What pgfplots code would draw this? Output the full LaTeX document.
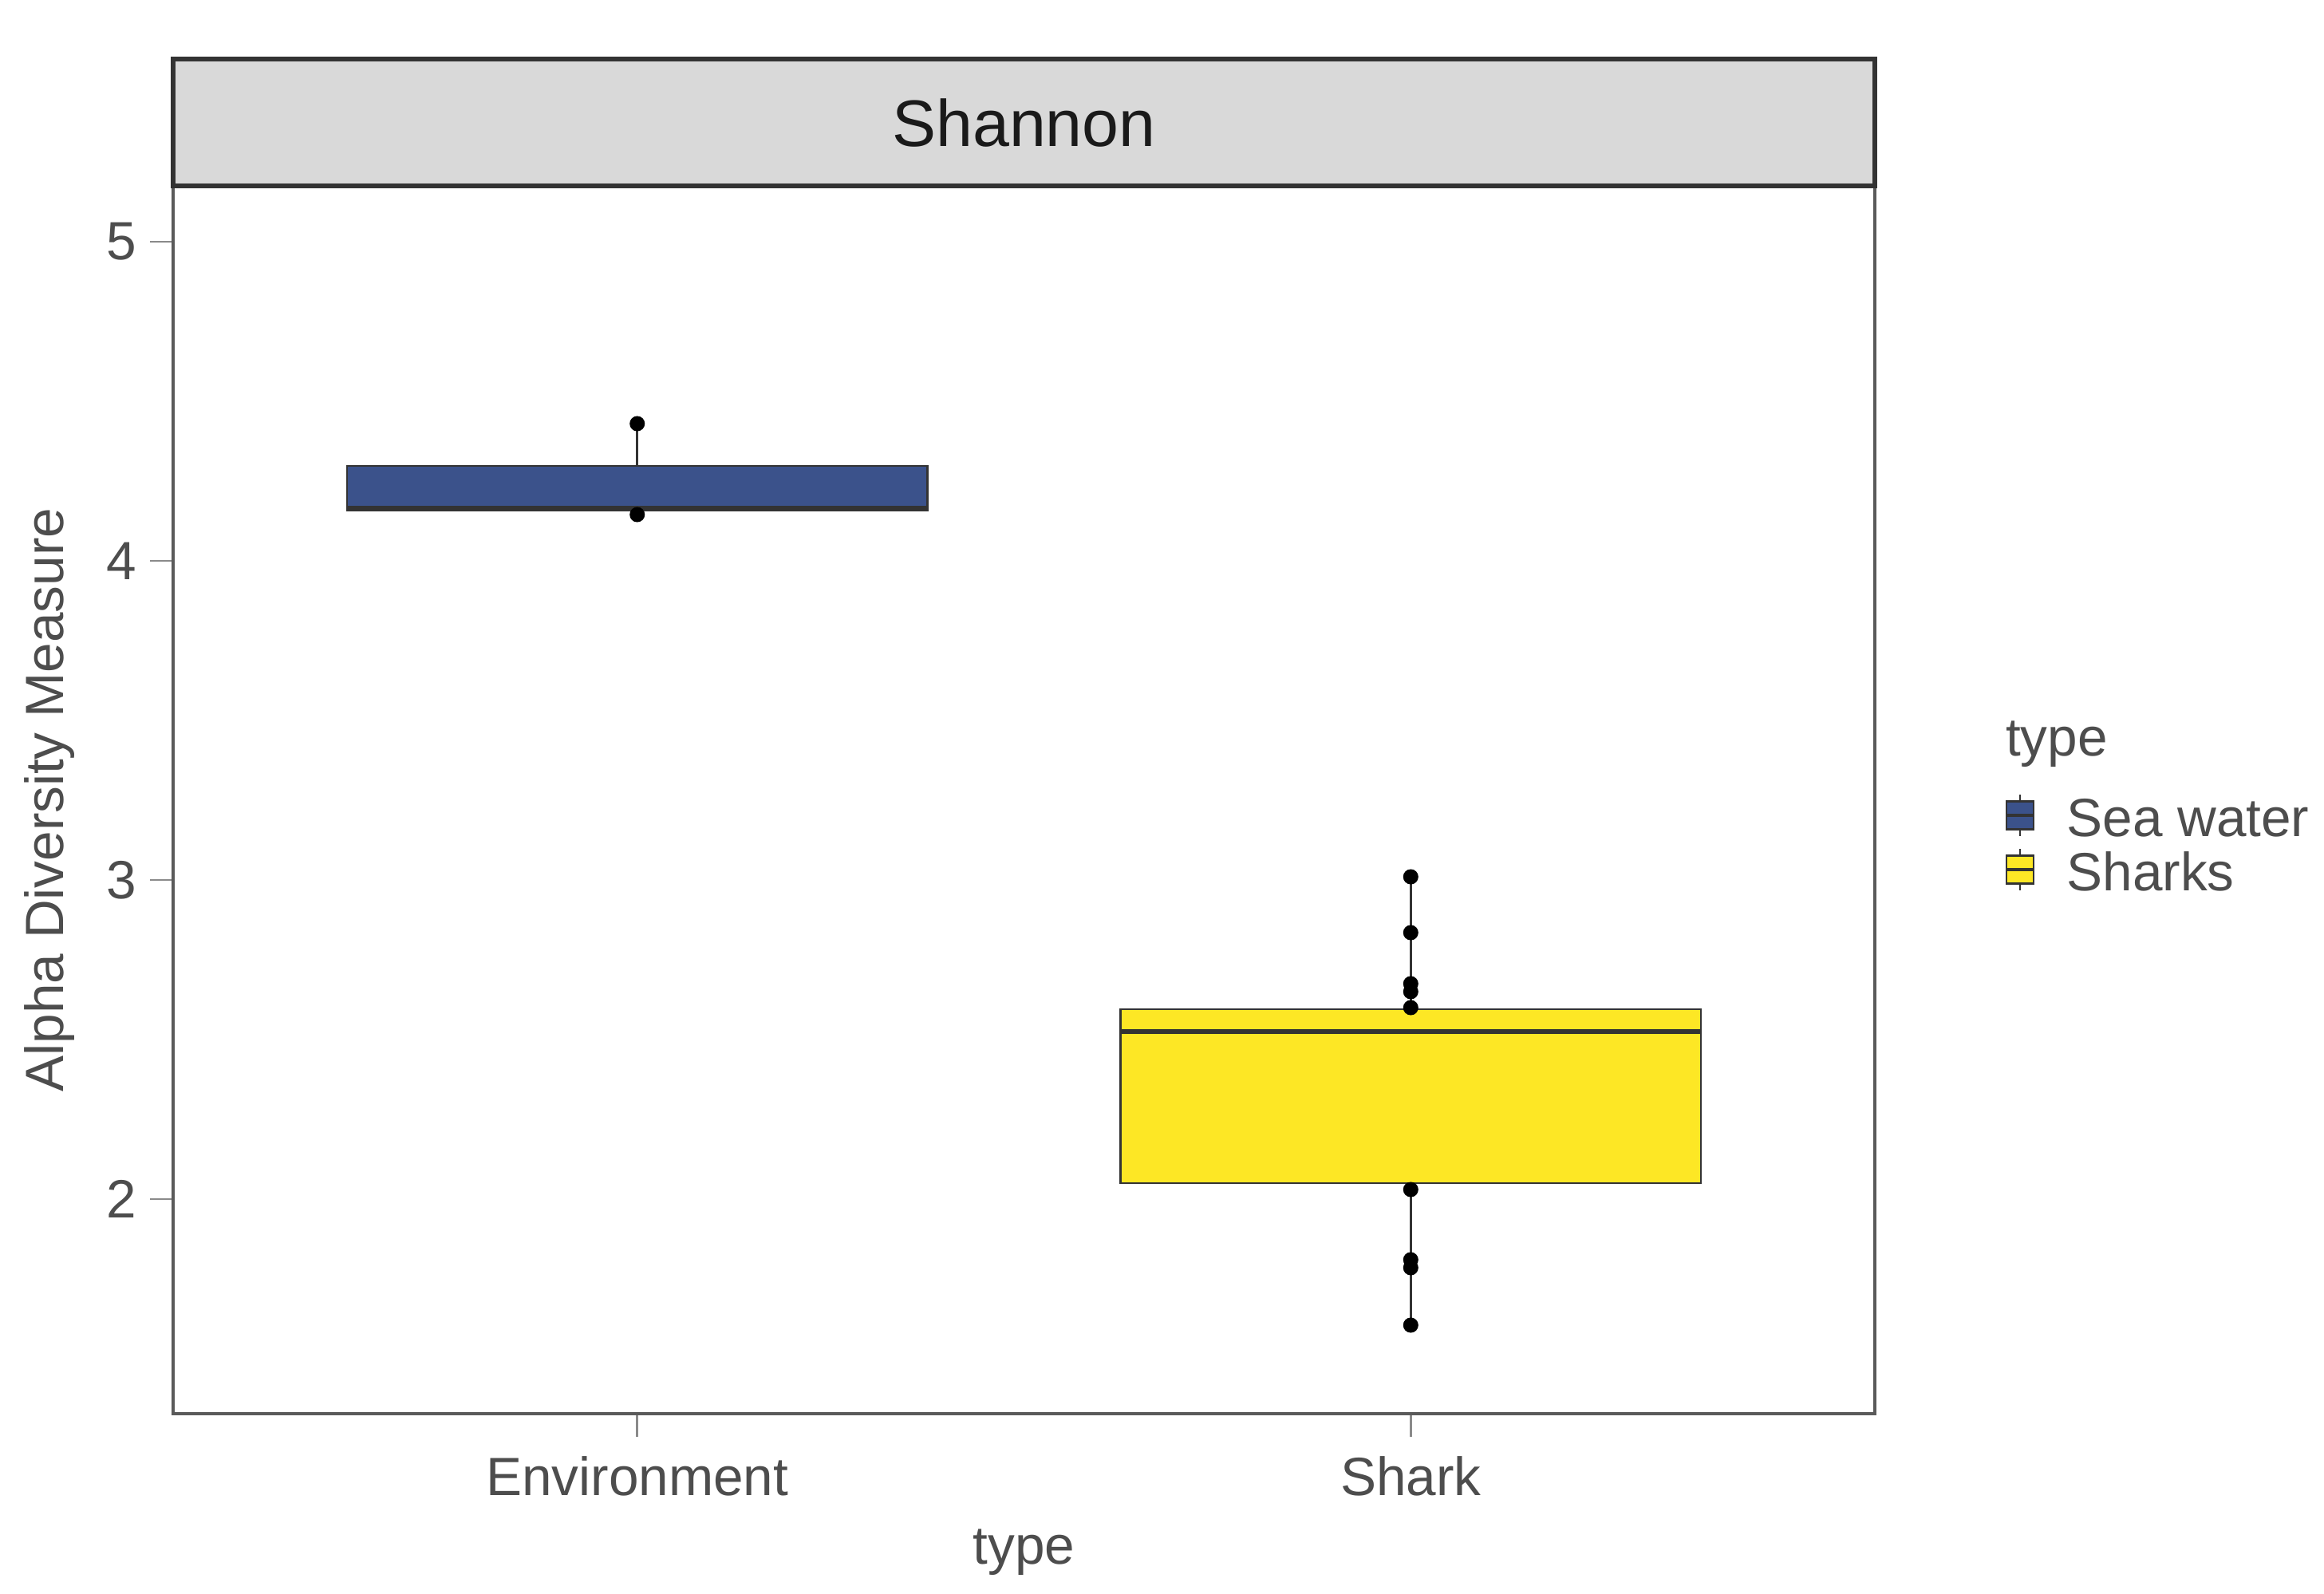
\documentclass[border=0pt]{standalone}
\usepackage{fontspec}
\setmainfont{Liberation Sans}
\usepackage{pgfplots}
\pgfplotsset{compat=1.18}
\usepgfplotslibrary{statistics}
\definecolor{seablue}{HTML}{3B528B}
\definecolor{sharky}{HTML}{FDE725}
\definecolor{txtgray}{HTML}{4D4D4D}
\definecolor{boxline}{HTML}{333333}
\definecolor{stripfill}{HTML}{D9D9D9}
\definecolor{framegray}{HTML}{5A5A5A}
\definecolor{tickgray}{HTML}{8A8A8A}
\definecolor{striptext}{HTML}{1A1A1A}
\begin{document}
\begin{tikzpicture}
\begin{axis}[
  at={(43.4pt,45pt)}, anchor=south west,
  scale only axis, width=426.6pt, height=307.8pt,
  xmin=0.4, xmax=2.6, ymin=1.3275, ymax=5.175,
  xtick={1,2}, xticklabels={Environment,Shark},
  ytick={2,3,4,5},
  tick pos=left, tick align=outside,
  major tick length=5.7pt,
  every tick/.style={draw=tickgray, line width=0.5pt},
  axis line style={draw=framegray, line width=0.9pt},
  tick label style={font=\fontsize{13.5}{16}\selectfont, text=txtgray},
  xticklabel style={yshift=-1.4pt},
  /pgf/number format/assume math mode=true,
  xlabel={type}, ylabel={Alpha Diversity Measure},
  label style={font=\fontsize{13.5}{16}\selectfont, text=txtgray},
  xlabel style={at={(axis description cs:0.5,-0.1222)}, anchor=base},
  ylabel style={at={(axis description cs:-0.0647,0.5)}, anchor=base},
  clip=false,
  boxplot/draw direction=y,
  legend style={at={(axis description cs:1.0764,0.5052)}, anchor=north west,
    draw=none, fill=none, inner sep=0pt, outer sep=0pt, row sep=0pt,
    font=\fontsize{13.5}{16}\selectfont, text=txtgray,
    nodes={inner sep=0pt, text height=9.7pt, text depth=2.9pt},
    /tikz/every odd column/.append style={column sep=8pt}},
  legend cell align=left,
]
% points
\addplot[only marks, mark=*, mark size=1.7pt, black, forget plot] coordinates {
  (1,4.43) (1,4.145)
};
\addplot[only marks, mark=*, mark size=1.7pt, black, forget plot] coordinates {
  (2,3.01) (2,2.835) (2,2.675) (2,2.65) (2,2.60) (2,2.03) (2,1.81) (2,1.785) (2,1.605)
};
% boxes
\addplot[boxplot prepared={draw position=1, lower whisker=4.145, lower quartile=4.157,
    median=4.166, upper quartile=4.297, upper whisker=4.43, box extend=0.75, whisker extend=0},
  draw=boxline, fill=seablue, line width=0.5pt,
  boxplot/every median/.style={line width=1.2pt},
  boxplot/every whisker/.style={line width=0.6pt}, forget plot] coordinates {};
\addplot[boxplot prepared={draw position=2, lower whisker=1.605, lower quartile=2.05,
    median=2.525, upper quartile=2.595, upper whisker=3.01, box extend=0.75, whisker extend=0},
  draw=boxline, fill=sharky, line width=0.5pt,
  boxplot/every median/.style={line width=1.2pt},
  boxplot/every whisker/.style={line width=0.6pt}, forget plot] coordinates {};
% legend
\addlegendimage{legend image code/.code={
  \begin{scope}[yshift=1.9pt]
  \draw[boxline, line width=0.5pt] (3.4pt,3.5pt)--(3.4pt,5.2pt) (3.4pt,-3.5pt)--(3.4pt,-5.2pt);
  \draw[draw=boxline, line width=0.5pt, fill=seablue] (0pt,-3.5pt) rectangle (6.8pt,3.5pt);
  \draw[boxline, line width=0.7pt] (0pt,0pt)--(6.8pt,0pt);
  \end{scope}}}
\addlegendentry{Sea water}
\addlegendimage{legend image code/.code={
  \begin{scope}[yshift=1.9pt]
  \draw[boxline, line width=0.5pt] (3.4pt,3.5pt)--(3.4pt,5.2pt) (3.4pt,-3.5pt)--(3.4pt,-5.2pt);
  \draw[draw=boxline, line width=0.5pt, fill=sharky] (0pt,-3.5pt) rectangle (6.8pt,3.5pt);
  \draw[boxline, line width=0.7pt] (0pt,0pt)--(6.8pt,0pt);
  \end{scope}}}
\addlegendentry{Sharks}
\end{axis}
% facet strip
\draw[fill=stripfill, draw=boxline, line width=1.1pt] (43.4pt,352.8pt) rectangle (470pt,384.6pt);
\node[anchor=base, inner sep=0pt, text=striptext, font=\fontsize{16.5}{19}\selectfont] at (256.7pt,362.6pt) {Shannon};
% legend title
\node[anchor=base west, inner sep=0pt, text=txtgray, font=\fontsize{13.5}{16}\selectfont] at (502.6pt,210pt) {type};
\pgfresetboundingbox
\useasboundingbox (0,0) rectangle (582.6pt,399.4pt);
\end{tikzpicture}
\end{document}
